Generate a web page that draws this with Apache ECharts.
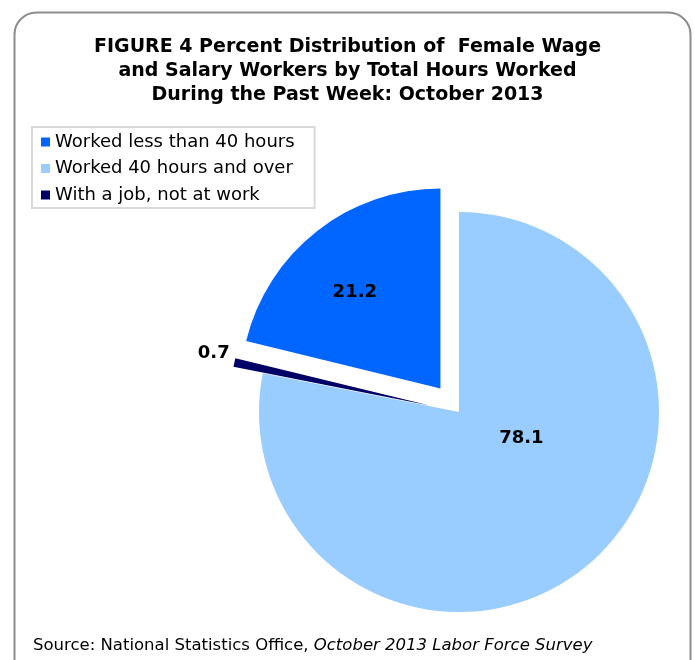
<!DOCTYPE html>
<html>
<head>
<meta charset="utf-8">
<script src="https://cdn.jsdelivr.net/npm/echarts@6/dist/echarts.min.js"></script>
<style>
  html, body { margin: 0; padding: 0; background: #fff; }
  #chart { width: 695px; height: 660px; }
</style>
</head>
<body>
<div id="chart"></div>
<script>
// slices in clockwise order starting at 12 o'clock
const categories = ["Worked 40 hours and over", "With a job, not at work", "Worked less than 40 hours"];
const values = [78.1, 0.7, 21.2];
const colors = ["#99ccff", "#000066", "#0066ff"];
const exploded = [false, true, true];
const legendOrder = ["Worked less than 40 hours", "Worked 40 hours and over", "With a job, not at work"];

const font = "DejaVu Sans";
const labelPos = ["inside", "outside", "inside"];
// nudges so the data labels sit where Excel put them
const labelShift = [[-3, -53], [45, -6], [-22, -15]];

const chart = echarts.init(document.getElementById("chart"));

chart.setOption({
  animation: false,
  backgroundColor: "#fff",
  graphic: [{
    type: "rect",
    left: 12,
    top: 10,
    shape: { width: 676, height: 690, r: 22 },
    style: { fill: "none", stroke: "#8c8c8c", lineWidth: 2 },
    silent: true
  }],
  title: [{
    text: "FIGURE 4 Percent Distribution of  Female Wage\nand Salary Workers by Total Hours Worked\nDuring the Past Week: October 2013",
    left: "center",
    top: 30,
    textStyle: {
      fontFamily: font,
      fontWeight: "bold",
      fontSize: 19,
      lineHeight: 24,
      align: "center",
      color: "#000"
    }
  }, {
    text: "{n|Source: National Statistics Office, }{i|October 2013 Labor Force Survey}",
    left: 28,
    top: 632,
    textStyle: {
      fontWeight: "normal",
      rich: {
        n: { fontFamily: font, fontSize: 16.5, fontWeight: "normal", color: "#000" },
        i: { fontFamily: font, fontSize: 16.5, fontWeight: "normal", fontStyle: "italic", color: "#000" }
      }
    }
  }],
  legend: {
    orient: "vertical",
    left: 32,
    top: 127,
    data: legendOrder,
    icon: "rect",
    itemWidth: 9,
    itemHeight: 9,
    itemGap: 8.5,
    padding: [6, 20, 4, 9],
    borderColor: "#d9d9d9",
    borderWidth: 2,
    selectedMode: false,
    textStyle: { fontFamily: font, fontSize: 18, color: "#000" }
  },
  series: [{
    type: "pie",
    center: [459, 412],
    radius: 200,
    startAngle: 90,
    clockwise: true,
    selectedMode: "multiple",
    selectedOffset: 30,
    emphasis: { disabled: true },
    labelLine: { show: false },
    label: {
      formatter: p => p.value.toFixed(1),
      fontFamily: font,
      fontWeight: "bold",
      fontSize: 18,
      color: "#000"
    },
    labelLayout: p => ({ dx: labelShift[p.dataIndex][0], dy: labelShift[p.dataIndex][1] }),
    data: categories.map((name, i) => ({
      name,
      value: values[i],
      selected: exploded[i],
      itemStyle: { color: colors[i] },
      label: { position: labelPos[i] }
    }))
  }]
});
</script>
</body>
</html>
